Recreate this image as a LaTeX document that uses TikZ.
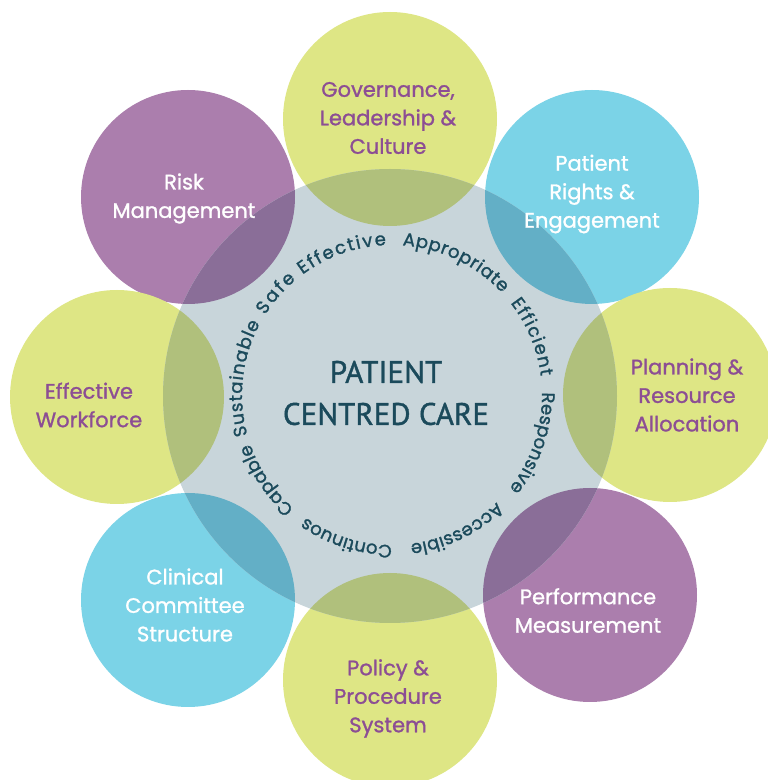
\documentclass[tikz,border=0pt]{standalone}
\usepackage{fontspec}
\newfontfamily\labelfont[FakeBold=1.2]{Poppins}
\newfontfamily\corefont[FakeBold=1.2]{PT Sans}
\newfontfamily\arcfont[FakeBold=1.4]{Poppins}
\usetikzlibrary{decorations.text}

% palette
\definecolor{leaf}{HTML}{DEE685}
\definecolor{leafdeep}{HTML}{B0C07C}
\definecolor{plum}{HTML}{AB7EAD}
\definecolor{plumdeep}{HTML}{8A6E98}
\definecolor{sky}{HTML}{7BD3E7}
\definecolor{skydeep}{HTML}{63AFC6}
\definecolor{mist}{HTML}{C8D5DA}
\definecolor{plumtext}{HTML}{8C4E94}
\definecolor{inktext}{HTML}{1B4A5B}

% one word of the ring of values, set clockwise on an arc round (tc)
\def\ringr{150pt}
\newcommand\ringword[3]{%
  \path[decorate,decoration={text along path,text align={fit to path},
        text color=inktext,text={|\arcfont\fontsize{18}{18}\selectfont|#3}}]
    ([shift={(#1:\ringr)}]tc) arc[start angle=#1,end angle=#2,radius=\ringr];}

\begin{document}
\begin{tikzpicture}[x=1pt,y=1pt,
  petal/.style={circle,minimum size=214pt,inner sep=0pt,fill=#1},
  lbl/.style={font=\labelfont\fontsize{21}{28.5}\selectfont,align=center,
              inner sep=0pt,text=#1}]
\useasboundingbox (0,0) rectangle (768,780);
\clip (0,0) rectangle (768,780);
\fill[white] (0,0) rectangle (768,780);

% outer circles
\node[petal=leaf] (gov)    at (390,661) {};
\node[petal=plum] (risk)   at (188,583) {};
\node[petal=sky]  (rights) at (592,583) {};
\node[petal=leaf] (plan)   at (670,385) {};
\node[petal=leaf] (work)   at (117,383) {};
\node[petal=sky]  (clin)   at (188,180) {};
\node[petal=plum] (perf)   at (590,185) {};
\node[petal=leaf] (pol)    at (390,100) {};

% central circle
\node[circle,minimum size=454pt,inner sep=0pt,fill=mist] (core) at (390,384) {};

% darker lenses where the central circle meets each outer circle
\foreach \p/\c in {gov/leafdeep,risk/plumdeep,rights/skydeep,plan/leafdeep,
                   work/leafdeep,clin/skydeep,perf/plumdeep,pol/leafdeep}{
  \begin{scope}
    \clip (\p.center) circle[radius=107pt];
    \fill[\c] (core.center) circle[radius=227pt];
  \end{scope}
}

% labels of the outer circles
\node[lbl=plumtext] (govt)    at (388,662)   {Governance,\\Leadership \&\\Culture};
\node[lbl=white]    (riskt)   at (184,581.5) {Risk\\Management};
\node[lbl=white]    (rightst) at (592,586)   {Patient\\Rights \&\\Engagement};
\node[lbl=plumtext] (plant)   at (687,385)   {Planning \&\\Resource\\Allocation};
\node[lbl=plumtext] (workt)   at (89,375)    {Effective\\Workforce};
\node[lbl=white]    (clint)   at (185,175)   {Clinical\\Committee\\Structure};
\node[lbl=white]    (perft)   at (588,169.5) {Performance\\Measurement};
\node[lbl=plumtext] (polt)    at (388,81.5)  {Policy \&\\Procedure\\System};

% centre title
\node[font=\corefont\fontsize{31}{42}\selectfont,text=inktext,align=center,inner sep=0pt]
  (title) at (386,387) {PATIENT\\CENTRED CARE};

% ring of values
\coordinate (tc) at (392,385);
\ringword{195.5}{151.5}{Sustainable}
\ringword{147.8}{129.8}{Safe}
\ringword{126.6}{92.2}{Effective}
\ringword{86}{42.8}{Appropriate}
\ringword{37.8}{7.2}{Efficient}
\ringword{1}{-38.6}{Responsive}
\ringword{-45.6}{-83}{Accessible}
\ringword{-90}{-125.2}{Continuos}
\ringword{-130.8}{-161}{Capable}
\end{tikzpicture}
\end{document}
